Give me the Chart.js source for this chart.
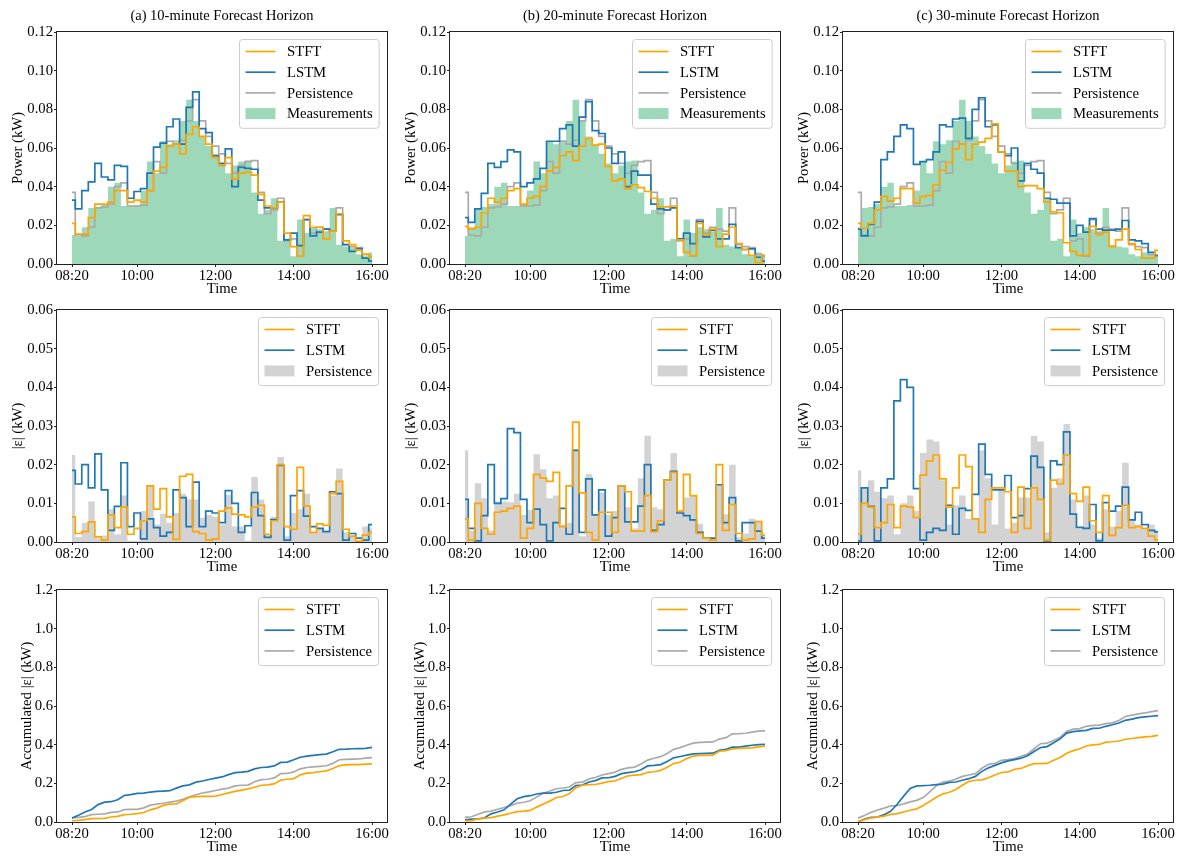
<!DOCTYPE html>
<html>
<head>
<meta charset="utf-8">
<script src="https://cdn.jsdelivr.net/npm/chart.js@4.4.0/dist/chart.umd.min.js"></script>
<style>
  html,body{margin:0;padding:0;background:#fff;}
  body{width:1179px;height:856px;position:relative;overflow:hidden;}
  canvas{position:absolute;}
</style>
</head>
<body>
<script>
/* ---- categories / ticks ---- */
const times = ['08:20','08:30','08:40','08:50','09:00','09:10','09:20','09:30','09:40','09:50',
  '10:00','10:10','10:20','10:30','10:40','10:50','11:00','11:10','11:20','11:30','11:40','11:50',
  '12:00','12:10','12:20','12:30','12:40','12:50','13:00','13:10','13:20','13:30','13:40','13:50',
  '14:00','14:10','14:20','14:30','14:40','14:50','15:00','15:10','15:20','15:30','15:40','15:50','16:00'];
const timeTicks  = ['08:20','10:00','12:00','14:00','16:00'];
const powerTicks = [0,0.02,0.04,0.06,0.08,0.10,0.12];
const errTicks   = [0,0.01,0.02,0.03,0.04,0.05,0.06];
const accTicks   = [0,0.2,0.4,0.6,0.8,1.0,1.2];
const titles = ['(a) 10-minute Forecast Horizon','(b) 20-minute Forecast Horizon','(c) 30-minute Forecast Horizon'];

/* ---- row 1: power (kW) ---- */
const measA = [0.015,0.0145,0.019,0.029,0.0295,0.031,0.040,0.042,0.030,0.030,
  0.0305,0.038,0.053,0.047,0.0635,0.062,0.064,0.074,0.085,0.074,
  0.066,0.061,0.057,0.052,0.047,0.051,0.053,0.0535,0.037,0.026,
  0.028,0.034,0.012,0.013,0.004,0.023,0.016,0.019,0.018,0.017,
  0.029,0.010,0.009,0.0085,0.005,0.004,0.006];
const measB = [0.0145,0.019,0.029,0.0295,0.031,0.040,0.042,0.030,0.030,0.0305,
  0.038,0.053,0.047,0.0635,0.062,0.064,0.074,0.085,0.074,0.066,
  0.061,0.057,0.052,0.047,0.051,0.053,0.0535,0.037,0.026,0.028,
  0.034,0.012,0.013,0.004,0.023,0.016,0.019,0.018,0.017,0.029,
  0.010,0.009,0.0085,0.005,0.004,0.006,0.005];
const measC = [0.019,0.029,0.0295,0.031,0.040,0.042,0.030,0.030,0.0305,0.038,
  0.053,0.047,0.0635,0.062,0.064,0.074,0.085,0.074,0.066,0.061,
  0.057,0.052,0.047,0.051,0.053,0.0535,0.037,0.026,0.028,0.034,
  0.012,0.013,0.004,0.023,0.016,0.019,0.018,0.017,0.029,0.010,
  0.009,0.0085,0.005,0.004,0.006,0.005,0.004];
const persPower = [0.037,0.015,0.0145,0.019,0.029,0.0295,0.031,0.040,0.042,0.030,
  0.030,0.0305,0.038,0.053,0.047,0.0635,0.062,0.064,0.074,0.085,
  0.074,0.066,0.061,0.057,0.052,0.047,0.051,0.053,0.0535,0.037,
  0.026,0.028,0.034,0.012,0.013,0.004,0.023,0.016,0.019,0.018,
  0.017,0.029,0.010,0.009,0.0085,0.005,0.004];
const stftA = [0.021,0.0155,0.0155,0.024,0.031,0.031,0.032,0.038,0.038,0.032,
  0.033,0.032,0.038,0.048,0.050,0.061,0.062,0.057,0.067,0.071,
  0.066,0.062,0.055,0.051,0.055,0.044,0.047,0.0475,0.046,0.036,
  0.030,0.029,0.032,0.016,0.009,0.004,0.025,0.019,0.019,0.013,
  0.017,0.026,0.012,0.010,0.007,0.005,0.0035];
const lstmA = [0.033,0.0285,0.038,0.0425,0.052,0.045,0.0435,0.051,0.0505,0.034,
  0.0375,0.039,0.047,0.0605,0.0625,0.071,0.075,0.062,0.081,0.089,
  0.070,0.068,0.056,0.052,0.0595,0.040,0.050,0.0495,0.049,0.033,
  0.029,0.029,0.032,0.0125,0.016,0.0095,0.023,0.0145,0.0165,0.018,
  0.017,0.0255,0.010,0.0065,0.008,0.003,0.0015];
const stftB = [0.0195,0.018,0.019,0.0265,0.034,0.032,0.034,0.038,0.039,0.031,
  0.034,0.035,0.040,0.048,0.050,0.056,0.058,0.0535,0.061,0.065,
  0.0615,0.062,0.0505,0.043,0.044,0.039,0.041,0.0395,0.0375,0.034,
  0.0295,0.0295,0.030,0.0125,0.006,0.0045,0.021,0.015,0.018,0.009,
  0.0155,0.019,0.0105,0.0075,0.0045,0.0007,0.0045];
const lstmB = [0.024,0.0215,0.0285,0.0365,0.052,0.050,0.053,0.059,0.058,0.040,
  0.042,0.044,0.0495,0.0635,0.0635,0.070,0.072,0.061,0.076,0.084,
  0.069,0.0675,0.060,0.052,0.058,0.040,0.048,0.046,0.046,0.031,
  0.0285,0.028,0.029,0.013,0.016,0.0105,0.022,0.014,0.0175,0.013,
  0.013,0.0205,0.0085,0.0075,0.0078,0.0035,0.0015];
const stftC = [0.021,0.0185,0.021,0.028,0.035,0.0325,0.034,0.039,0.039,0.0315,
  0.035,0.0355,0.041,0.0485,0.0525,0.0595,0.062,0.054,0.062,0.063,
  0.065,0.0725,0.058,0.048,0.048,0.040,0.0405,0.0405,0.039,0.032,
  0.027,0.0265,0.011,0.0065,0.0045,0.0045,0.0195,0.015,0.0165,0.009,
  0.0125,0.018,0.0105,0.0075,0.003,0.003,0.007];
const lstmC = [0.018,0.0145,0.0205,0.032,0.054,0.058,0.066,0.072,0.070,0.0515,
  0.053,0.054,0.058,0.072,0.071,0.075,0.0755,0.065,0.080,0.086,
  0.071,0.072,0.058,0.056,0.060,0.043,0.052,0.049,0.047,0.034,
  0.0335,0.0315,0.0315,0.0145,0.020,0.0165,0.0235,0.018,0.0175,0.0175,
  0.018,0.0225,0.0125,0.012,0.0105,0.006,0.0045];

/* ---- row 2: |error| (kW) ---- */
const errStftA = [0.0065,0.0022,0.0027,0.0052,0.0013,0.0005,0.007,0.0037,0.009,0.002,
  0.0035,0.0055,0.0145,0.0085,0.0138,0.0065,0.0007,0.017,0.0175,0.0027,
  0.0022,0.0005,0.0008,0.008,0.0088,0.0072,0.007,0.0065,0.009,0.0095,
  0.002,0.0055,0.020,0.004,0.0033,0.0193,0.0093,0.0025,0.0047,0.0043,
  0.0125,0.0157,0.0033,0.0015,0.0002,0.0018,0.0025];
const errLstmA = [0.0185,0.015,0.020,0.014,0.0228,0.0135,0.003,0.0092,0.0205,0.004,
  0.0075,0.0008,0.006,0.0037,0.0015,0.0025,0.0135,0.0115,0.004,0.0155,
  0.004,0.008,0.0075,0.005,0.0133,0.010,0.0025,0.0042,0.0128,0.0068,
  0.0012,0.0058,0.0198,0.0005,0.012,0.0133,0.0067,0.004,0.0035,0.0027,
  0.013,0.0125,0.0005,0.0022,0.001,0.0005,0.0045];
const errPersA = [0.0225,0.0013,0.005,0.0105,0.001,0.0017,0.0085,0.002,0.012,0.0003,
  0.0003,0.008,0.0145,0.0045,0.0073,0.005,0.0075,0.0125,0.011,0.011,
  0.0063,0.007,0.0065,0.0045,0.0122,0.004,0.004,0.0003,0.0168,0.011,
  0.002,0.0065,0.022,0.0015,0.0075,0.0085,0.0125,0.0025,0.0035,0.003,
  0.012,0.019,0.0025,0.0015,0.0005,0.004,0.0035];
const errStftB = [0.006,0.0005,0.010,0.0035,0.002,0.0077,0.008,0.0087,0.0093,0.001,
  0.0035,0.0175,0.0165,0.0157,0.018,0.004,0.0145,0.031,0.0127,0.0025,
  0.0005,0.0077,0.0077,0.0025,0.0145,0.013,0.0028,0.0028,0.012,0.0027,
  0.0055,0.016,0.018,0.008,0.0175,0.012,0.0022,0.001,0.0005,0.020,
  0.003,0.0097,0.0022,0.0005,0.0008,0.0053,0.0018];
const errLstmB = [0.011,0.0035,0.0003,0.0068,0.020,0.010,0.0112,0.0293,0.0283,0.011,
  0.005,0.0085,0.0045,0.0003,0.005,0.0087,0.002,0.0237,0.0025,0.0163,
  0.007,0.0135,0.0015,0.0063,0.0145,0.0052,0.0052,0.0093,0.020,0.003,
  0.0045,0.016,0.0183,0.0075,0.0068,0.0057,0.0025,0.001,0.001,0.0148,
  0.005,0.0115,0.0003,0.005,0.005,0.0028,0.001];
const errPersB = [0.0237,0.003,0.0152,0.0113,0.003,0.0105,0.0105,0.0103,0.0125,0.007,
  0.0083,0.0227,0.0188,0.0113,0.012,0.0045,0.005,0.024,0.0015,0.0175,
  0.0072,0.0128,0.007,0.008,0.0145,0.009,0.0035,0.0165,0.0275,0.009,
  0.0085,0.016,0.023,0.0082,0.0115,0.012,0.0047,0.0012,0.001,0.015,
  0.0072,0.020,0.0012,0.0022,0.006,0.0055,0.0015];
const errStftC = [0.002,0.010,0.009,0.0037,0.005,0.0097,0.0037,0.0093,0.009,0.0063,
  0.0173,0.021,0.0225,0.0163,0.009,0.014,0.0225,0.0195,0.006,0.0025,
  0.011,0.014,0.014,0.013,0.0025,0.0142,0.0035,0.014,0.011,0.0005,
  0.016,0.015,0.0225,0.0125,0.0105,0.0142,0.0055,0.0025,0.012,0.0017,
  0.0037,0.0095,0.0037,0.004,0.0035,0.0015,0.0005];
const errLstmC = [0.0003,0.014,0.0092,0.0003,0.014,0.0163,0.0365,0.042,0.040,0.0138,
  0.0005,0.0025,0.0035,0.003,0.0095,0.002,0.0087,0.0082,0.0123,0.0253,
  0.0175,0.0135,0.0135,0.0172,0.0063,0.0068,0.0138,0.0222,0.0193,0.0003,
  0.021,0.020,0.0285,0.0072,0.0038,0.0035,0.0097,0.0003,0.0102,0.008,
  0.0093,0.0142,0.0057,0.0077,0.0045,0.003,0.0026];
const errPersC = [0.0185,0.014,0.016,0.013,0.0113,0.012,0.002,0.010,0.012,0.008,
  0.023,0.0265,0.026,0.016,0.0045,0.0095,0.012,0.006,0.006,0.0237,
  0.0165,0.0045,0.0135,0.0035,0.005,0.0115,0.0115,0.0275,0.026,0.0025,
  0.014,0.0165,0.0305,0.011,0.0035,0.012,0.0045,0.001,0.0085,0.004,
  0.008,0.0205,0.006,0.0045,0.0035,0.0045,0.003];

/* ---- row 3: accumulated |error| (kW) ---- */
const accStftA = [0.0065,0.009,0.012,0.017,0.018,0.019,0.026,0.029,0.038,0.040,
  0.043,0.049,0.063,0.072,0.086,0.092,0.093,0.110,0.128,0.131,
  0.133,0.133,0.134,0.142,0.151,0.158,0.165,0.171,0.180,0.190,
  0.192,0.197,0.217,0.221,0.224,0.244,0.253,0.255,0.260,0.264,
  0.277,0.292,0.295,0.297,0.297,0.299,0.301];
const accLstmA = [0.020,0.035,0.052,0.065,0.090,0.103,0.105,0.115,0.137,0.142,
  0.148,0.149,0.155,0.158,0.160,0.162,0.175,0.187,0.192,0.206,
  0.212,0.220,0.227,0.233,0.245,0.255,0.258,0.262,0.275,0.282,
  0.284,0.290,0.308,0.310,0.322,0.335,0.341,0.345,0.348,0.351,
  0.363,0.376,0.377,0.379,0.380,0.381,0.386];
const accPersA = [0.022,0.024,0.028,0.038,0.040,0.042,0.050,0.052,0.064,0.065,
  0.065,0.073,0.087,0.092,0.097,0.103,0.108,0.117,0.130,0.141,
  0.150,0.156,0.163,0.170,0.175,0.187,0.190,0.191,0.208,0.219,
  0.221,0.228,0.250,0.251,0.259,0.275,0.282,0.285,0.288,0.291,
  0.303,0.322,0.324,0.325,0.326,0.330,0.333];
const accStftB = [0.006,0.007,0.016,0.020,0.023,0.030,0.037,0.045,0.054,0.056,
  0.060,0.077,0.093,0.108,0.127,0.132,0.147,0.178,0.190,0.193,
  0.194,0.201,0.209,0.212,0.226,0.239,0.242,0.245,0.257,0.260,
  0.267,0.283,0.302,0.310,0.328,0.341,0.344,0.345,0.346,0.366,
  0.369,0.378,0.381,0.382,0.383,0.389,0.392];
const accLstmB = [0.011,0.015,0.015,0.022,0.042,0.052,0.063,0.092,0.120,0.131,
  0.136,0.145,0.149,0.149,0.154,0.163,0.165,0.189,0.191,0.207,
  0.214,0.228,0.229,0.236,0.250,0.255,0.260,0.270,0.290,0.293,
  0.297,0.313,0.332,0.339,0.346,0.352,0.354,0.355,0.356,0.371,
  0.376,0.387,0.387,0.392,0.397,0.400,0.401];
const accPersB = [0.024,0.027,0.040,0.052,0.056,0.066,0.075,0.085,0.097,0.102,
  0.110,0.130,0.149,0.160,0.172,0.176,0.181,0.204,0.206,0.223,
  0.230,0.243,0.250,0.258,0.272,0.280,0.284,0.300,0.320,0.330,
  0.338,0.354,0.376,0.385,0.397,0.408,0.412,0.413,0.414,0.429,
  0.436,0.456,0.457,0.459,0.465,0.470,0.471];
const accStftC = [0.002,0.012,0.021,0.025,0.030,0.039,0.043,0.052,0.061,0.068,
  0.085,0.106,0.128,0.145,0.154,0.168,0.190,0.210,0.216,0.218,
  0.229,0.243,0.256,0.259,0.273,0.277,0.291,0.302,0.302,0.303,
  0.319,0.334,0.356,0.369,0.379,0.393,0.399,0.401,0.413,0.415,
  0.419,0.428,0.432,0.436,0.440,0.443,0.448];
const accLstmC = [0.0005,0.015,0.024,0.025,0.038,0.055,0.092,0.134,0.173,0.187,
  0.188,0.190,0.193,0.196,0.205,0.207,0.216,0.224,0.236,0.262,
  0.280,0.293,0.306,0.316,0.323,0.330,0.343,0.365,0.385,0.390,
  0.410,0.430,0.460,0.467,0.471,0.474,0.484,0.485,0.495,0.503,
  0.512,0.526,0.532,0.540,0.544,0.547,0.550];
const accPersC = [0.020,0.034,0.050,0.062,0.072,0.083,0.085,0.094,0.104,0.112,
  0.126,0.156,0.187,0.206,0.211,0.222,0.236,0.243,0.250,0.278,
  0.298,0.303,0.319,0.323,0.328,0.340,0.351,0.379,0.405,0.408,
  0.422,0.438,0.469,0.480,0.483,0.495,0.500,0.501,0.509,0.513,
  0.525,0.546,0.553,0.559,0.564,0.571,0.576];

/* ---- look ---- */
const FAMILY = "'Liberation Serif','Times New Roman',serif";
const FS = 14.7;
const COL = {stft:'#ffa500', lstm:'#1f77b4', pers:'#aaaaaa', meas:'rgba(60,179,113,0.5)', persBar:'#d3d3d3'};
Chart.defaults.font.family = FAMILY;
Chart.defaults.font.size = FS;
Chart.defaults.color = '#000';

const toMin = t => { const [h,m] = t.split(':').map(Number); return h*60+m; };
const pts = arr => arr.map((y,i) => ({x: toMin(times[i]), y}));

const line = (label, arr, color, stepped) => ({label, data: pts(arr), borderColor: color, borderWidth: 1.7,
  pointRadius: 0, fill: false, stepped: stepped ? 'middle' : false, tension: 0});
const area = (label, arr, color) => ({label, data: pts(arr), backgroundColor: color, borderColor: 'rgba(0,0,0,0)',
  borderWidth: 0, pointRadius: 0, fill: 'origin', stepped: 'middle'});

/* ---- plugins: axes box + matplotlib-like legend ---- */
const frame = {
  id: 'frame',
  afterDatasetsDraw(c){
    const {ctx, chartArea: a} = c;
    ctx.save();
    ctx.strokeStyle = '#222'; ctx.lineWidth = 1;
    ctx.strokeRect(Math.round(a.left)-0.5, Math.round(a.top)-0.5, Math.round(a.right-a.left)+1, Math.round(a.bottom-a.top)+1);
    ctx.restore();
  }
};
const boxLegend = {
  id: 'boxLegend',
  afterDraw(c){
    const {ctx, chartArea: a} = c;
    const ds = c.data.datasets;
    ctx.save();
    ctx.font = FS + 'px ' + FAMILY;
    const tw = Math.max(...ds.map(d => ctx.measureText(d.label).width));
    const w = 48 + tw + 6, h = ds.length*20.7 + 6;
    const x = Math.round(a.right - 8.5 - w), y = Math.round(a.top + 6.5);
    ctx.beginPath(); ctx.roundRect(x+0.5, y+0.5, w, h, 3);
    ctx.fillStyle = 'rgba(255,255,255,0.8)'; ctx.fill();
    ctx.strokeStyle = '#cccccc'; ctx.lineWidth = 1; ctx.stroke();
    ds.forEach((d,i) => {
      const cy = y + 12.5 + i*20.7;
      if (d.fill){ ctx.fillStyle = d.backgroundColor; ctx.fillRect(x+6.5, cy-5.5, 30, 11); }
      else { ctx.strokeStyle = d.borderColor; ctx.lineWidth = d.borderWidth;
             ctx.beginPath(); ctx.moveTo(x+6.5, cy); ctx.lineTo(x+36.5, cy); ctx.stroke(); }
      ctx.fillStyle = '#000'; ctx.textAlign = 'left'; ctx.textBaseline = 'middle';
      ctx.fillText(d.label, x+48, cy+1);
    });
    ctx.restore();
  }
};

/* ---- layout ---- */
const LEFTS = [57, 450, 843], TOPS = [32, 310, 590];
const PW = 330, PH = 232, YW = 57, XH = 40, RP = 8;

function panel(row, col, datasets, yTicks, dec, yTitle, yPad){
  const topPad = row === 0 ? 32 : 20;
  const w = YW + PW + RP, h = topPad + PH + XH;
  const cv = document.createElement('canvas');
  cv.width = w; cv.height = h;
  Object.assign(cv.style, {left: (LEFTS[col]-YW)+'px', top: (TOPS[row]-topPad)+'px', width: w+'px', height: h+'px'});
  document.body.appendChild(cv);
  const grid = {display: true, drawOnChartArea: false, drawTicks: true, tickLength: 3, color: '#222', lineWidth: 1};
  new Chart(cv, {
    type: 'line',
    data: {datasets},
    options: {
      responsive: false, animation: false, devicePixelRatio: 1, events: [],
      layout: {padding: {top: row === 0 ? 0 : topPad, right: RP, bottom: 0, left: 0}},
      plugins: {
        legend: {display: false}, tooltip: {enabled: false},
        title: {display: row === 0, text: titles[col], fullSize: false, color: '#000',
                font: {size: 14.5, weight: 'normal'}, padding: {top: 7, bottom: 7.6}}
      },
      scales: {
        x: {type: 'linear', min: 477, max: 983,
            afterBuildTicks: s => { s.ticks = timeTicks.map(t => ({value: toMin(t)})); },
            afterFit: s => { s.height = XH; },
            ticks: {autoSkip: false, maxRotation: 0, padding: 0, color: '#000',
                    callback: v => timeTicks.find(t => toMin(t) === v)},
            grid, border: {display: false},
            title: {display: true, text: 'Time', color: '#000', padding: {top: 0, bottom: 6}}},
        y: {type: 'linear', min: 0, max: yTicks[yTicks.length-1],
            afterBuildTicks: s => { s.ticks = yTicks.map(v => ({value: v})); },
            afterFit: s => { s.width = YW; },
            ticks: {padding: 1, color: '#000', callback: v => v.toFixed(dec)},
            grid, border: {display: false},
            title: {display: true, text: yTitle, color: '#000', padding: {top: yPad, bottom: 0}}}
      }
    },
    plugins: [frame, boxLegend]
  });
}

const meas = [measA, measB, measC];
const stft = [stftA, stftB, stftC], lstm = [lstmA, lstmB, lstmC];
const eS = [errStftA, errStftB, errStftC], eL = [errLstmA, errLstmB, errLstmC], eP = [errPersA, errPersB, errPersC];
const aS = [accStftA, accStftB, accStftC], aL = [accLstmA, accLstmB, accLstmC], aP = [accPersA, accPersB, accPersC];

for (let c = 0; c < 3; c++){
  panel(0, c, [line('STFT', stft[c], COL.stft, true), line('LSTM', lstm[c], COL.lstm, true),
               line('Persistence', persPower, COL.pers, true), area('Measurements', meas[c], COL.meas)],
        powerTicks, 2, 'Power (kW)', 9.5);
  panel(1, c, [line('STFT', eS[c], COL.stft, true), line('LSTM', eL[c], COL.lstm, true),
               area('Persistence', eP[c], COL.persBar)],
        errTicks, 2, '|\u03b5| (kW)', 9.5);
  panel(2, c, [line('STFT', aS[c], COL.stft, false), line('LSTM', aL[c], COL.lstm, false),
               line('Persistence', aP[c], COL.pers, false)],
        accTicks, 1, 'Accumulated |\u03b5| (kW)', 18.5);
}
</script>
</body>
</html>
